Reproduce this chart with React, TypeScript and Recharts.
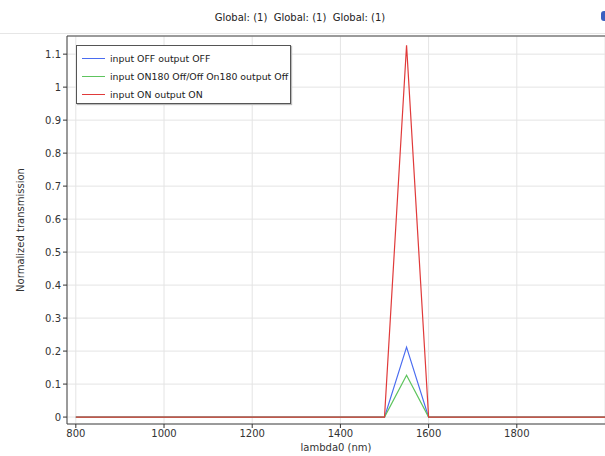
import { LineChart, Line, XAxis, YAxis, CartesianGrid, ReferenceLine } from 'recharts';

// wavelength samples (nm)
const lambda = [800, 900, 1000, 1100, 1200, 1300, 1400, 1500, 1550, 1600, 1700, 1800, 1900, 2000];
const offOff = [0, 0, 0, 0, 0, 0, 0, 0, 0.212, 0, 0, 0, 0, 0];
const on180Off = [0, 0, 0, 0, 0, 0, 0, 0, 0.127, 0, 0, 0, 0, 0];
const onOn = [0, 0, 0, 0, 0, 0, 0, 0, 1.127, 0, 0, 0, 0, 0];

const xTicks = [800, 1000, 1200, 1400, 1600, 1800];
const yTicks = [0, 0.1, 0.2, 0.3, 0.4, 0.5, 0.6, 0.7, 0.8, 0.9, 1, 1.1];

const seriesNames = ['input OFF output OFF', 'input ON180 Off/Off On180 output Off', 'input ON output ON'];
const colors = ['#4a6cf0', '#5ec45e', '#e03a3a'];

const data = lambda.map((l, i) => ({ l, a: offOff[i], b: on180Off[i], c: onOn[i] }));

const font = 'DejaVu Sans, sans-serif';

export default function App() {
  return (
    <div style={{ position: 'absolute', left: 0, top: 0, width: 605, height: 456, background: '#fff', fontFamily: font, overflow: 'hidden' }}>
      {/* Title */}
      <div style={{ position: 'absolute', top: 12, left: 0, width: 600, textAlign: 'center', fontSize: 10, color: '#222' }}>
        Global: (1)&nbsp; Global: (1)&nbsp; Global: (1)
      </div>
      {/* info icon, cut off at the edge */}
      <div style={{ position: 'absolute', top: 11, left: 601, width: 8, height: 10, borderRadius: 3, background: '#3b5fc0' }} />
      <div style={{ position: 'absolute', top: 33, left: 0, width: 605, borderTop: '1px solid #e6e6e6' }} />

      <LineChart width={605} height={456} data={data} margin={{ top: 36, right: 0, left: 10, bottom: 10 }}>
        <CartesianGrid stroke="#e4e4e4" vertical horizontal />
        <XAxis
          dataKey="l"
          type="number"
          domain={[780, 2000]}
          allowDataOverflow
          ticks={xTicks}
          height={22}
          tick={{ fontSize: 10, fill: '#333', fontFamily: font }}
          tickLine={{ stroke: '#333' }}
          tickSize={4}
          axisLine={{ stroke: '#444' }}
          label={{ value: 'lambda0 (nm)', position: 'insideBottom', offset: -5, fontSize: 10, fill: '#333', fontFamily: font }}
        />
        <YAxis
          type="number"
          domain={[-0.021, 1.155]}
          allowDataOverflow
          ticks={yTicks}
          width={57}
          tickFormatter={(v: number) => String(Math.round(v * 10) / 10)}
          tick={{ fontSize: 10, fill: '#333', fontFamily: font }}
          tickLine={{ stroke: '#333' }}
          tickSize={4}
          axisLine={{ stroke: '#444' }}
          label={{ value: 'Normalized transmission', angle: -90, position: 'insideLeft', offset: 0, dx: 10, fontSize: 10, fill: '#333', fontFamily: font, style: { textAnchor: 'middle' } }}
        />
        <ReferenceLine y={1.155} stroke="#444" ifOverflow="extendDomain" />
        <Line dataKey="a" stroke={colors[0]} strokeWidth={1.2} dot={false} isAnimationActive={false} name={seriesNames[0]} />
        <Line dataKey="b" stroke={colors[1]} strokeWidth={1.2} dot={false} isAnimationActive={false} name={seriesNames[1]} />
        <Line dataKey="c" stroke={colors[2]} strokeWidth={1.2} dot={false} isAnimationActive={false} name={seriesNames[2]} />
      </LineChart>

      {/* Legend */}
      <div style={{ position: 'absolute', left: 76, top: 45, width: 215, height: 59, border: '1px solid #555', background: '#fff', boxShadow: '1px 1px 1px #bbb', fontSize: 9.4, color: '#222', boxSizing: 'border-box', paddingTop: 3, whiteSpace: 'nowrap' }}>
        {seriesNames.map((n, i) => (
          <div key={n} style={{ display: 'flex', alignItems: 'center', height: 18 }}>
            <div style={{ width: 23, height: 0, borderTop: `1.5px solid ${colors[i]}`, marginLeft: 5, marginRight: 5 }} />
            <span>{n}</span>
          </div>
        ))}
      </div>
    </div>
  );
}
